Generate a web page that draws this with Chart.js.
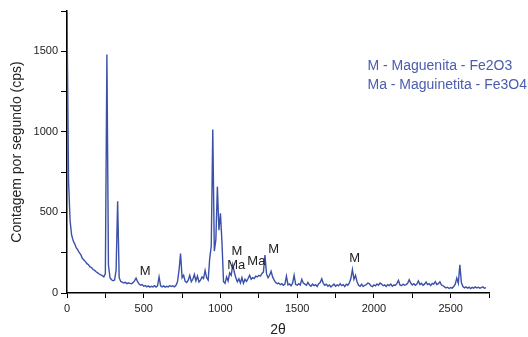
<!DOCTYPE html>
<html>
<head>
<meta charset="utf-8">
<script src="https://cdn.jsdelivr.net/npm/chart.js@4"></script>
<style>
  html, body { margin: 0; padding: 0; background: #fff; }
  #wrap { width: 528px; height: 337px; }
</style>
</head>
<body>
<div id="wrap"><canvas id="xrdChart" width="528" height="337"></canvas></div>
<script>
// 2-theta axis sampled every 10 units, starting at 0
var angleStart = 0;
var angleStep = 10;

// counts per second
var cps = [
  1740, 700, 450, 360, 325, 305, 282, 268, 250, 238,
  215, 205, 195, 182, 175, 162, 158, 146, 140, 132,
  125, 118, 112, 108, 100, 120, 1480, 175, 95, 82,
  76, 80, 140, 570, 95, 72, 68, 62, 66, 58,
  63, 60, 57, 64, 75, 92, 70, 55, 48, 52,
  42, 46, 38, 44, 36, 42, 38, 45, 37, 44,
  100, 45, 38, 44, 36, 42, 38, 46, 40, 44,
  38, 48, 70, 140, 245, 95, 110, 72, 65, 80,
  110, 70, 85, 115, 75, 105, 68, 80, 100, 90,
  140, 95, 80, 215, 290, 1015, 260, 330, 660, 390,
  495, 310, 70, 60, 100, 75, 125, 110, 175, 130,
  95, 70, 88, 62, 95, 60, 85, 72, 90, 110,
  85, 95, 90, 105, 100, 110, 105, 120, 130, 235,
  120, 95, 110, 135, 100, 80, 65, 58, 62, 52,
  58, 48, 55, 105, 50, 56, 45, 60, 110, 52,
  48, 58, 50, 85, 62, 55, 48, 66, 50, 42,
  55, 46, 52, 40, 58, 65, 88, 60, 48, 55,
  42, 50, 38, 46, 55, 42, 50, 44, 58, 46,
  52, 40, 55, 48, 62, 90, 145, 85, 110, 70,
  48, 42, 55, 40, 48, 52, 62, 58, 45, 40,
  50, 44, 56, 48, 62, 55, 45, 50, 40, 52,
  46, 55, 42, 50, 48, 58, 78, 50, 45, 55,
  48, 52, 60, 82, 62, 50, 58, 48, 55, 75,
  52, 60, 48, 55, 68, 52, 58, 46, 60, 55,
  70, 52, 58, 70, 50, 45, 38, 32, 36, 28,
  34, 30, 40, 55, 92, 60, 175, 65, 40, 32,
  38, 30, 36, 28, 35, 30, 38, 32, 36, 30,
  34, 38, 30, 34
];

// peak labels
var peakLabels = ['M', 'M', 'Ma', 'Ma', 'M', 'M'];
var peakLabelX = [510, 1108, 1103, 1234, 1347, 1875];
var peakLabelY = [133, 257, 170, 195, 268, 212];

// key text
var keyLines = ['M - Maguenita - Fe2O3', 'Ma - Maguinetita - Fe3O4'];
var keyX = 1958;
var keyY = [1408, 1290];

var points = cps.map(function (v, i) {
  return { x: angleStart + i * angleStep, y: v };
});

var textPlugin = {
  id: 'peakText',
  afterDatasetsDraw: function (chart) {
    var ctx = chart.ctx;
    var xs = chart.scales.x;
    var ys = chart.scales.y;
    ctx.save();
    ctx.font = '13px "Liberation Sans", Arial, sans-serif';
    ctx.fillStyle = '#222';
    ctx.textAlign = 'center';
    ctx.textBaseline = 'middle';
    for (var i = 0; i < peakLabels.length; i++) {
      ctx.fillText(peakLabels[i], xs.getPixelForValue(peakLabelX[i]), ys.getPixelForValue(peakLabelY[i]));
    }
    ctx.font = '14px "Liberation Sans", Arial, sans-serif';
    ctx.fillStyle = '#4a5cae';
    ctx.textAlign = 'left';
    for (var j = 0; j < keyLines.length; j++) {
      ctx.fillText(keyLines[j], xs.getPixelForValue(keyX), ys.getPixelForValue(keyY[j]));
    }
    ctx.restore();
  }
};

var tickFont = { family: '"Liberation Sans", Arial, sans-serif', size: 11 };
var titleFont = { family: '"Liberation Sans", Arial, sans-serif', size: 14, lineHeight: 1 };

var config = {
  type: 'line',
  data: {
    datasets: [{
      data: points,
      borderColor: '#3b50a8',
      borderWidth: 1.4,
      pointRadius: 0,
      tension: 0,
      fill: false
    }]
  },
  options: {
    responsive: false,
    animation: false,
    layout: { padding: { top: 11, right: 39, left: 0, bottom: 0 } },
    plugins: {
      legend: { display: false },
      tooltip: { enabled: false }
    },
    scales: {
      x: {
        type: 'linear',
        min: 0,
        max: 2750,
        afterFit: function (scale) { scale.height = 44; },
        grid: { drawOnChartArea: false, drawTicks: true, tickLength: 5, color: '#000' },
        border: { color: '#000', width: 1.5 },
        ticks: {
          stepSize: 250,
          autoSkip: false,
          maxRotation: 0,
          padding: 4,
          color: '#222',
          font: tickFont,
          callback: function (v) { return v % 500 === 0 ? String(v) : ''; }
        },
        title: { display: true, text: '2θ', color: '#222', font: titleFont, padding: { top: 0, bottom: 0 } }
      },
      y: {
        min: 0,
        max: 1750,
        afterFit: function (scale) { scale.width = 67; },
        grid: { drawOnChartArea: false, drawTicks: true, tickLength: 6, color: '#000' },
        border: { color: '#000', width: 1.5 },
        ticks: {
          stepSize: 250,
          autoSkip: false,
          padding: 3,
          color: '#222',
          font: tickFont,
          callback: function (v) { return v % 500 === 0 ? String(v) : ''; }
        },
        title: { display: true, text: 'Contagem por segundo (cps)', color: '#222', font: titleFont, padding: { top: 10, bottom: 0 } }
      }
    }
  },
  plugins: [textPlugin]
};

var xrdChart = new Chart(document.getElementById('xrdChart'), config);
</script>
</body>
</html>
